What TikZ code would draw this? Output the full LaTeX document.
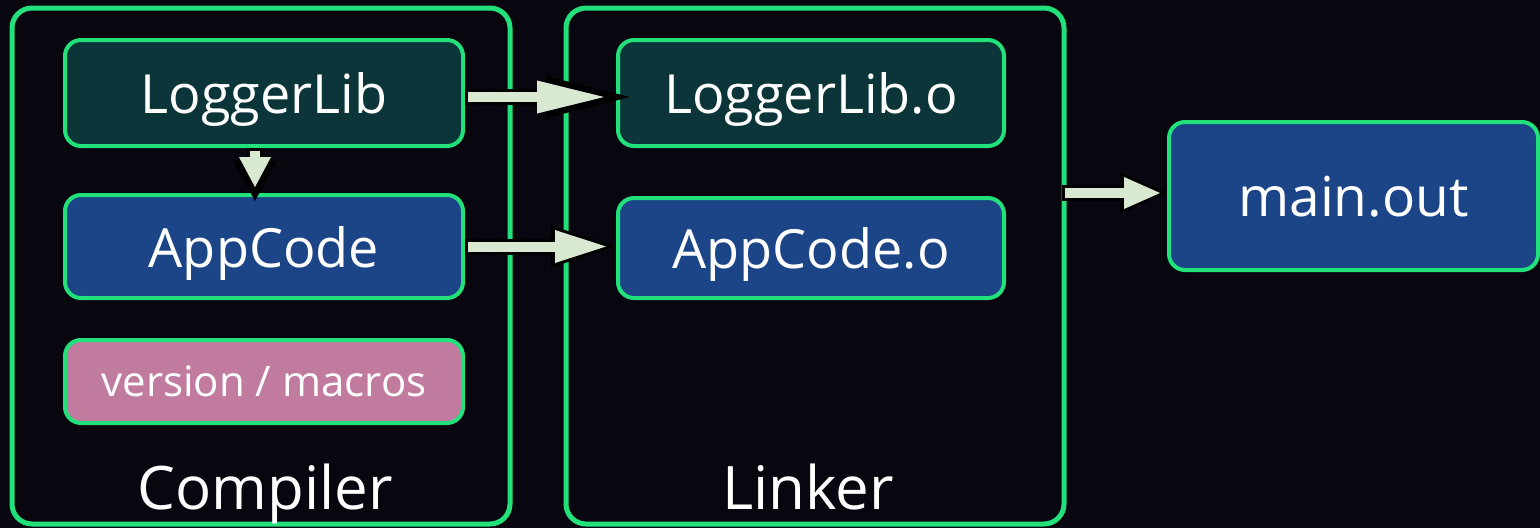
\documentclass[tikz,border=0pt]{standalone}
\usepackage{fontspec}
\setmainfont{Open Sans}
\usetikzlibrary{arrows.meta}

\definecolor{bgcol}{HTML}{08070F}
\definecolor{edgegreen}{HTML}{22E07A}
\definecolor{tealbox}{HTML}{0B3539}
\definecolor{bluebox}{HTML}{1C4588}
\definecolor{pinkbox}{HTML}{C07B9F}
\definecolor{arrowfill}{HTML}{D9E9D1}

\tikzset{
	stage/.style={draw=edgegreen, line width=5pt, rounded corners=20pt, minimum width=498pt, minimum height=516pt, inner sep=0pt},
	box/.style={draw=edgegreen, line width=4pt, rounded corners=16pt, text=white, inner sep=0pt, text depth=0pt, font=\fontsize{54}{60}\selectfont},
	stagelabel/.style={text=white, inner sep=0pt, text depth=0pt, font=\fontsize{60}{66}\selectfont},
	fatarrow/.style n args={5}{draw=black, line width=16pt, -{Triangle[length=#1, width=#2, line width=0pt]},
		postaction={draw=arrowfill, line width=10pt, shorten <=3pt, shorten >=#5, -{Triangle[length=#3, width=#4, line width=0pt]}}}
}

\begin{document}
\begin{tikzpicture}[x=1pt, y=-1pt]
		\fill[bgcol] (0,0) rectangle (1540,528); % Background.

		\node[stage] (compiler) at (261,266) {};
		\node[stage] (linker) at (815,266) {};
		\node[stagelabel] (compilerlabel) at (265,487) {Compiler};
		\node[stagelabel] (linkerlabel) at (808,487) {Linker};

		\node[box, fill=tealbox, minimum width=398pt, minimum height=106pt] (logger) at (264,93) {LoggerLib};
		\node[box, fill=bluebox, minimum width=398pt, minimum height=103pt] (appcode) at (264,246.5) {AppCode};
		\node[box, fill=pinkbox, minimum width=398pt, minimum height=83pt, font=\fontsize{42}{48}\selectfont] (macros) at (264,381.5) {version / macros};

		\node[box, fill=tealbox, minimum width=386pt, minimum height=106pt] (loggero) at (811,93) {LoggerLib.o};
		\node[box, fill=bluebox, minimum width=386pt, minimum height=100pt] (appcodeo) at (811,248) {AppCode.o};

		\node[box, fill=bluebox, minimum width=369pt, minimum height=148pt, font=\fontsize{55}{60}\selectfont] (mainout) at (1353.5,196) {main.out};

		\draw[fatarrow={84pt}{42pt}{67pt}{33pt}{12pt}, shorten >=-14pt] ([yshift=-4pt]logger.east) -- ([yshift=-4pt]loggero.west);
		\draw[fatarrow={40pt}{43pt}{30pt}{32pt}{6pt}, shorten >=-8pt] (logger.south -| 255,0) -- (appcode.north -| 255,0);
		\draw[fatarrow={65pt}{42pt}{51pt}{33pt}{10pt}] (appcode.east) -- (appcodeo.west |- appcode.east);
		\draw[fatarrow={47pt}{42pt}{36pt}{32pt}{7pt}] ([xshift=-5pt, yshift=3pt]linker.east |- mainout.west) -- ([yshift=3pt]mainout.west); % Link step.
	\end{tikzpicture}
\end{document}
